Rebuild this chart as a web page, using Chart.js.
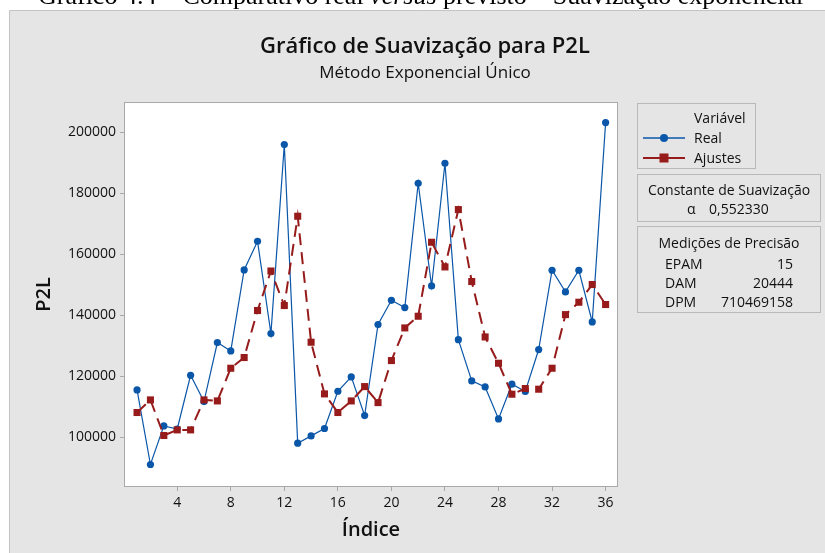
<!DOCTYPE html>
<html>
<head>
<meta charset="utf-8">
<script src="https://cdn.jsdelivr.net/npm/chart.js@4.4.1/dist/chart.umd.min.js"></script>
<style>
  html, body { margin: 0; padding: 0; background: #fff; }
  #wrap { position: relative; width: 825px; height: 553px; overflow: hidden; font-family: "Open Sans", sans-serif; color: #111; }
  #grafico { position: absolute; left: 0; top: 0; }
  .caixa { position: absolute; border: 1px solid #b9b9b9; box-sizing: border-box; font-size: 14px; font-weight: 500; line-height: 19px; }
  .caixa div { position: absolute; white-space: nowrap; }
  #cap { position: absolute; left: 38px; top: -19px; font-family: "Liberation Serif", serif; font-size: 26px; white-space: nowrap; color: #000; }
</style>
</head>
<body>
<div id="wrap">
  <canvas id="grafico" width="825" height="553"></canvas>
  <div id="cap">Gráfico 4.4 – Comparativo real <i>versus</i> previsto – Suavização exponencial</div>

  <div class="caixa" style="left:637px; top:103px; width:119px; height:66px;">
    <div style="left:56px; top:4px;">Variável</div>
    <svg style="position:absolute; left:5px; top:26px;" width="44" height="40">
      <line x1="0" y1="8" x2="42" y2="8" stroke="#0a56a8" stroke-width="1.5"/>
      <circle cx="21" cy="8" r="4" fill="#0a56a8"/>
      <line x1="0" y1="28" x2="42" y2="28" stroke="#971b1b" stroke-width="2"/>
      <rect x="16.5" y="23.5" width="9" height="9" fill="#971b1b"/>
    </svg>
    <div style="left:56px; top:24px;">Real</div>
    <div style="left:56px; top:44px;">Ajustes</div>
  </div>

  <div class="caixa" style="left:637px; top:174px; width:184px; height:48px;">
    <div style="left:0; width:182px; text-align:center; top:5px;">Constante de Suavização</div>
    <div style="left:49px; top:24px;">α</div>
    <div id="alfa" style="left:71px; top:24px;"></div>
  </div>

  <div class="caixa" style="left:637px; top:226px; width:184px; height:87px;">
    <div style="left:0; width:182px; text-align:center; top:6px;">Medições de Precisão</div>
    <div style="left:27px; top:27px;">EPAM</div>
    <div style="left:27px; top:46px;">DAM</div>
    <div style="left:27px; top:65px;">DPM</div>
    <div id="epam" style="right:27px; top:27px;"></div>
    <div id="dam" style="right:27px; top:46px;"></div>
    <div id="dpm" style="right:27px; top:65px;"></div>
  </div>
</div>

<script>
// P2L observado e valores ajustados pela suavização exponencial simples
const indice = [1, 2, 3, 4, 5, 6, 7, 8, 9, 10, 11, 12, 13, 14, 15, 16, 17, 18,
                19, 20, 21, 22, 23, 24, 25, 26, 27, 28, 29, 30, 31, 32, 33, 34, 35, 36];
const real = [115500, 91050, 103700, 102700, 120300, 111700, 131050, 128300, 154850,
              164260, 134000, 195970, 98030, 100430, 102850, 115080, 119770, 107100,
              136950, 144900, 142500, 183280, 149600, 189840, 132000, 118460, 116500,
              106000, 117380, 115000, 128750, 154750, 147640, 154750, 137800, 203180];
const ajustes = [108100, 112230, 100560, 102400, 102400, 112230, 111900, 122620, 126130,
                 141540, 154500, 143180, 172460, 131150, 114200, 108100, 111900, 116600,
                 111350, 125130, 135840, 139670, 163930, 155840, 174650, 151050, 132880,
                 124260, 114100, 115970, 115740, 122620, 140200, 144260, 150060, 143510];
const ticksX = [4, 8, 12, 16, 20, 24, 28, 32, 36];
const ticksY = [100000, 120000, 140000, 160000, 180000, 200000];

const alfa = '0,552330';
const precisao = { EPAM: '15', DAM: '20444', DPM: '710469158' };

document.getElementById('alfa').textContent = alfa;
document.getElementById('epam').textContent = precisao.EPAM;
document.getElementById('dam').textContent = precisao.DAM;
document.getElementById('dpm').textContent = precisao.DPM;

const azul = '#0a56a8';
const vermelho = '#971b1b';
const cinza = '#e5e5e5';

// fundo cinza, área do gráfico branca, moldura e títulos
const fundo = {
  id: 'fundo',
  beforeDraw(chart) {
    const { ctx, chartArea: a } = chart;
    ctx.save();
    ctx.fillStyle = '#fff';
    ctx.fillRect(0, 0, chart.width, chart.height);
    ctx.fillStyle = cinza;
    ctx.fillRect(9, 10, chart.width - 9, chart.height - 10);
    ctx.strokeStyle = '#c4c4c4';
    ctx.lineWidth = 1;
    ctx.beginPath();
    ctx.moveTo(9.5, chart.height);
    ctx.lineTo(9.5, 10.5);
    ctx.lineTo(chart.width, 10.5);
    ctx.stroke();
    ctx.fillStyle = '#fff';
    ctx.fillRect(a.left, a.top, a.right - a.left, a.bottom - a.top);
    ctx.strokeStyle = '#a9a9a9';
    ctx.strokeRect(a.left - 0.5, a.top - 0.5, a.right - a.left + 1, a.bottom - a.top + 1);

    ctx.fillStyle = '#111';
    ctx.textAlign = 'center';
    ctx.textBaseline = 'middle';
    ctx.font = '600 22px "Open Sans"';
    ctx.fillText('Gráfico de Suavização para P2L', 425, 47);
    ctx.font = '500 17px "Open Sans"';
    ctx.fillText('Método Exponencial Único', 425, 73);
    ctx.restore();
  }
};

const pontos = (ys) => indice.map((x, i) => ({ x: x, y: ys[i] }));

new Chart(document.getElementById('grafico'), {
  type: 'line',
  data: {
    datasets: [
      {
        label: 'Real',
        data: pontos(real),
        borderColor: azul,
        backgroundColor: azul,
        borderWidth: 1.2,
        pointStyle: 'circle',
        pointRadius: 3.6,
        pointBorderWidth: 0,
        tension: 0,
        order: 1
      },
      {
        label: 'Ajustes',
        data: pontos(ajustes),
        borderColor: vermelho,
        backgroundColor: vermelho,
        borderWidth: 2,
        borderDash: [12, 7],
        pointStyle: 'rect',
        pointRadius: 5,
        pointBorderWidth: 0,
        tension: 0,
        order: 0
      }
    ]
  },
  options: {
    responsive: false,
    animation: false,
    devicePixelRatio: 1,
    layout: { padding: { top: 103, right: 208, bottom: 0, left: 0 } },
    plugins: {
      legend: { display: false },
      tooltip: { enabled: false }
    },
    scales: {
      x: {
        type: 'linear',
        min: 0.1,
        max: 36.85,
        afterBuildTicks: (s) => { s.ticks = ticksX.map(v => ({ value: v })); },
        afterFit: (s) => { s.height = 67; },
        border: { display: false },
        grid: { drawOnChartArea: false, drawTicks: true, tickLength: 5, color: '#a9a9a9' },
        ticks: { color: '#111', font: { family: 'Open Sans', size: 14, weight: '500' }, padding: 4, maxRotation: 0 },
        title: { display: true, text: 'Índice', color: '#111', font: { family: 'Open Sans', size: 20, weight: '600' }, padding: { top: 0, bottom: 11 } }
      },
      y: {
        min: 84000,
        max: 209600,
        afterBuildTicks: (s) => { s.ticks = ticksY.map(v => ({ value: v })); },
        afterFit: (s) => { s.width = 125; },
        border: { display: false },
        grid: { drawOnChartArea: false, drawTicks: true, tickLength: 5, color: '#a9a9a9' },
        ticks: { color: '#111', font: { family: 'Open Sans', size: 14, weight: '500' }, padding: 4, callback: (v) => String(v) },
        title: { display: true, text: 'P2L', color: '#111', font: { family: 'Open Sans', size: 20, weight: '600' }, padding: { top: 32, bottom: 0 } }
      }
    }
  },
  plugins: [fundo]
});
</script>
</body>
</html>
